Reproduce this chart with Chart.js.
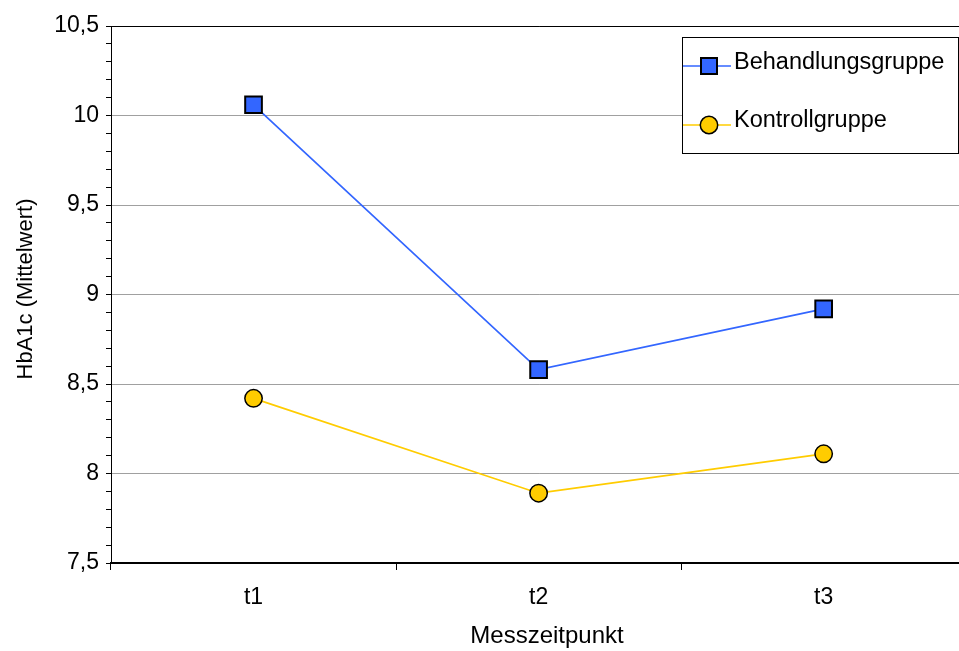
<!DOCTYPE html>
<html lang="de">
<head>
<meta charset="utf-8">
<title>HbA1c je Messzeitpunkt</title>
<script src="https://cdn.jsdelivr.net/npm/chart.js@4.4.1/dist/chart.umd.min.js"></script>
<style>
  html, body { margin: 0; padding: 0; background: #ffffff; overflow: hidden; }
  #wrap { position: relative; width: 980px; height: 651px; }
</style>
</head>
<body>
<div id="wrap"><canvas id="chart"></canvas></div>
<script>
// Messzeitpunkte und HbA1c-Mittelwerte je Gruppe
const categories = ['t1', 't2', 't3'];
const behandlungsgruppe = [10.06, 8.58, 8.92];
const kontrollgruppe = [8.42, 7.89, 8.11];
const seriesNames = ['Behandlungsgruppe', 'Kontrollgruppe'];
const yTitle = 'HbA1c (Mittelwert)';
const xTitle = 'Messzeitpunkt';

const FONT = "'Liberation Sans', Arial, Helvetica, sans-serif";
const BLUE = '#3366FF';
const YELLOW = '#FFCC00';

const isMajor = v => Math.abs(v * 2 - Math.round(v * 2)) < 1e-6;
const fmt = v => String(Math.round(v * 10) / 10).replace('.', ',');

// Achsentitel und Legendenkasten
const annotations = {
  id: 'annotations',
  afterDraw(chart) {
    const ctx = chart.ctx;
    ctx.save();
    ctx.fillStyle = '#000000';
    ctx.textAlign = 'center';
    ctx.textBaseline = 'alphabetic';
    ctx.font = '24px ' + FONT;
    ctx.fillText(xTitle, 547, 643);
    ctx.save();
    ctx.translate(32, 289);
    ctx.rotate(-Math.PI / 2);
    ctx.font = '22px ' + FONT;
    ctx.fillText(yTitle, 0, 0);
    ctx.restore();

    const x0 = 682.5, y0 = 37.5, w = 276, h = 116;
    ctx.fillStyle = '#ffffff';
    ctx.fillRect(x0, y0, w, h);
    ctx.strokeStyle = '#000000';
    ctx.lineWidth = 1;
    ctx.strokeRect(x0, y0, w, h);
    const rows = [66, 125];
    const baselines = [69, 127];
    chart.data.datasets.forEach((ds, i) => {
      const y = rows[i];
      ctx.strokeStyle = ds.borderColor;
      ctx.lineWidth = ds.borderWidth;
      ctx.beginPath();
      ctx.moveTo(683, y);
      ctx.lineTo(731, y);
      ctx.stroke();
      ctx.fillStyle = ds.pointBackgroundColor;
      ctx.strokeStyle = ds.pointBorderColor;
      ctx.lineWidth = ds.pointBorderWidth;
      ctx.beginPath();
      if (ds.pointStyle === 'rect') {
        ctx.rect(709 - 8, y - 8, 16, 16);
      } else {
        ctx.arc(709, y, ds.pointRadius, 0, Math.PI * 2);
      }
      ctx.fill();
      ctx.stroke();
      ctx.fillStyle = '#000000';
      ctx.font = '23.5px ' + FONT;
      ctx.textAlign = 'left';
      ctx.fillText(ds.label, 734, baselines[i]);
    });
    ctx.restore();
  }
};

new Chart(document.getElementById('chart'), {
  type: 'line',
  data: {
    labels: categories,
    datasets: [
      {
        label: seriesNames[0],
        data: behandlungsgruppe,
        borderColor: BLUE,
        borderWidth: 1.7,
        pointStyle: 'rect',
        pointRadius: 11.8,
        pointHoverRadius: 11.8,
        pointBackgroundColor: BLUE,
        pointBorderColor: '#000000',
        pointBorderWidth: 2,
        tension: 0
      },
      {
        label: seriesNames[1],
        data: kontrollgruppe,
        borderColor: YELLOW,
        borderWidth: 1.7,
        pointStyle: 'circle',
        pointRadius: 8.7,
        pointHoverRadius: 8.7,
        pointBackgroundColor: YELLOW,
        pointBorderColor: '#000000',
        pointBorderWidth: 1.5,
        tension: 0
      }
    ]
  },
  options: {
    responsive: true,
    maintainAspectRatio: false,
    devicePixelRatio: 1,
    animation: false,
    layout: { padding: { top: 26, right: 12, bottom: 0, left: 0 } },
    plugins: {
      legend: { display: false },
      tooltip: { enabled: false }
    },
    scales: {
      x: {
        type: 'category',
        offset: true,
        afterFit(scale) { scale.height = 88; },
        border: { display: true, color: '#000000', width: 2 },
        grid: {
          offset: true,
          drawOnChartArea: false,
          drawTicks: true,
          tickLength: 7,
          tickColor: '#000000',
          color: '#000000'
        },
        ticks: {
          color: '#000000',
          padding: 14,
          font: { family: FONT, size: 23 }
        },
        title: { display: false, text: xTitle }
      },
      y: {
        type: 'linear',
        min: 7.5,
        max: 10.5,
        afterFit(scale) { scale.width = 111; },
        border: { display: true, color: '#000000', width: 1 },
        grid: {
          drawTicks: true,
          tickLength: 5,
          tickColor: '#000000',
          lineWidth: 1,
          color(ctx) {
            const v = ctx.tick ? ctx.tick.value : 0;
            if (Math.abs(v - 10.5) < 1e-6 || Math.abs(v - 7.5) < 1e-6) return '#000000';
            return isMajor(v) ? '#a0a0a0' : 'rgba(0,0,0,0)';
          }
        },
        ticks: {
          stepSize: 0.1,
          autoSkip: false,
          padding: 7,
          color: '#000000',
          font: { family: FONT, size: 23 },
          callback(value) { return isMajor(value) ? fmt(value) : ''; }
        },
        title: { display: false, text: yTitle }
      }
    }
  },
  plugins: [annotations]
});
</script>
</body>
</html>
